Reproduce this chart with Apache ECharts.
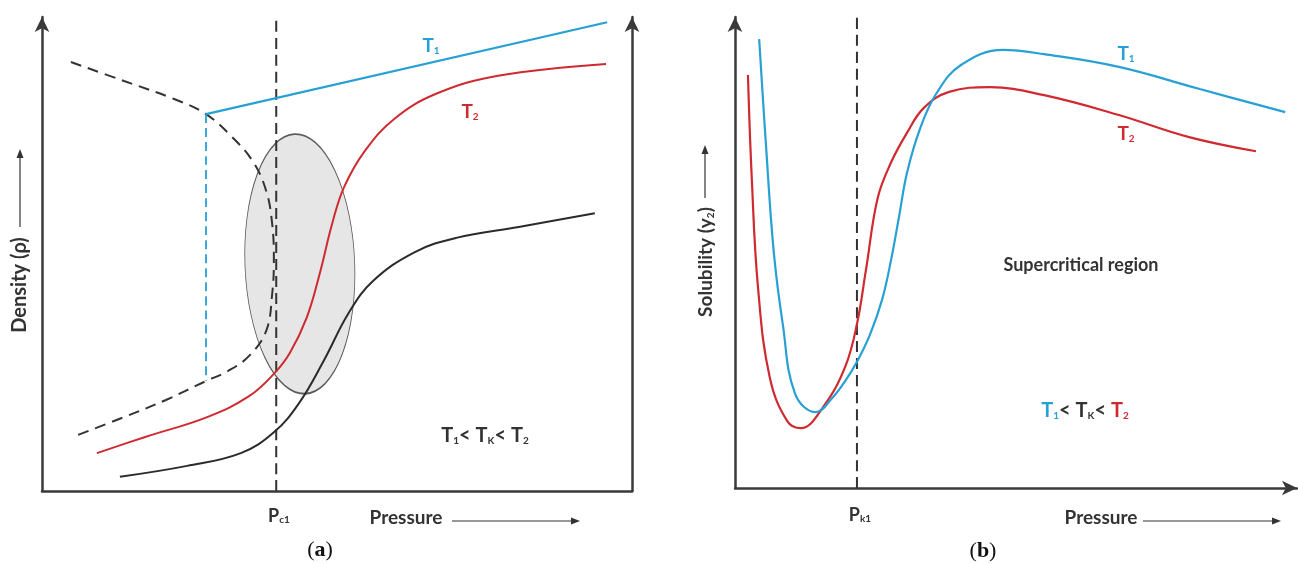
<!DOCTYPE html>
<html>
<head>
<meta charset="utf-8">
<script src="https://cdn.jsdelivr.net/npm/echarts@6/dist/echarts.min.js"></script>
<style>
html,body{margin:0;padding:0;background:#fff;}
#chart{width:1298px;height:564px;}
</style>
</head>
<body>
<div id="chart"></div>
<script>
// ---------- Panel (a): Density vs Pressure (arbitrary units 0-100) ----------
const pc1 = 39.7;
const aT1Line = [[27.8, 79.5], [95.8, 98.9]];
const aT1Drop = [[27.8, 79.5], [27.8, 23.2]];
const aCoexist = [[4.9, 90.5], [13.9, 86.5], [22.4, 82.7], [27.8, 79.5], [32.2, 74.7], [35.8, 69.4], [38.0, 63.3], [39.0, 56.5], [39.3, 48.9], [39.0, 41.4], [38.0, 33.8], [35.1, 28.5], [31.5, 25.3], [27.8, 23.2], [21.0, 19.2], [13.9, 15.6], [5.6, 11.6]];
const aT2 = [[9.3, 8.0], [17.5, 11.4], [28.0, 15.6], [35.1, 20.0], [39.3, 24.7], [42.0, 29.1], [44.9, 36.7], [47.1, 46.0], [49.2, 56.5], [51.2, 64.1], [54.7, 71.7], [59.7, 78.5], [66.8, 83.8], [77.3, 87.6], [95.6, 90.1]];
const aBlack = [[13.2, 3.0], [24.6, 5.3], [33.7, 8.0], [39.3, 12.4], [43.6, 18.6], [47.8, 27.6], [52.0, 37.6], [56.1, 44.3], [63.2, 50.4], [70.2, 53.4], [80.8, 55.7], [93.7, 58.6]];
// NCR ellipse: centre x, centre y, half-width, half-height
const ncr = [[43.7, 47.9, 9.3, 27.4]];

// ---------- Panel (b): Solubility vs Pressure ----------
const pk1 = 21.7;
const bT1 = [[4.3, 95.3], [5.5, 73.0], [6.9, 50.1], [8.5, 34.8], [10.7, 20.0], [14.4, 16.1], [17.3, 19.1], [19.6, 22.7], [21.7, 26.8], [24.0, 32.5], [26.2, 40.1], [27.8, 48.6], [29.2, 57.7], [30.6, 66.9], [32.9, 76.2], [35.8, 83.7], [40.2, 89.8], [47.7, 93.0], [55.0, 92.1], [68.3, 89.4], [82.7, 84.7], [97.9, 79.8]];
const bT2 = [[2.3, 87.7], [3.0, 65.4], [4.1, 42.5], [6.2, 23.4], [9.3, 14.2], [11.7, 12.7], [15.8, 17.4], [19.6, 25.7], [21.7, 34.8], [23.3, 46.3], [25.4, 61.6], [27.8, 69.2], [30.6, 75.4], [33.6, 80.7], [38.1, 84.1], [45.4, 85.1], [55.0, 83.4], [68.3, 79.2], [80.8, 74.5], [92.7, 71.5]];

const BLUE = '#27a0d4', RED = '#cf2a30', DARK = '#2b2b2b', TXT = '#333333';
const FONT = 'Lato';

function axisBase(extra) {
  return Object.assign({
    type: 'value', min: 0, max: 100,
    axisTick: {show: false}, axisLabel: {show: false}, splitLine: {show: false}
  }, extra);
}
const arrowLine = {show: true, symbol: ['none', 'arrow'], symbolSize: [11, 15], lineStyle: {color: '#3a3a3a', width: 2.5}};
const plainLine = {show: true, lineStyle: {color: '#3a3a3a', width: 2.5}};

function ln(name, data, color, xi, dash, width) {
  return {
    type: 'line', name: name, data: data, xAxisIndex: xi, yAxisIndex: xi === 0 ? 0 : 2,
    smooth: 0.4, symbol: 'none', silent: true,
    lineStyle: {color: color, width: width || 2, type: dash || 'solid'}
  };
}

const sub = (c) => ({fontSize: 10, fontFamily: FONT, fontWeight: 'bold', fill: c, lineHeight: 4, verticalAlign: 'bottom'});
const main = (c, fs) => ({fontSize: fs, fontFamily: FONT, fontWeight: 'bold', fill: c, lineHeight: fs + 2, verticalAlign: 'bottom'});

function txt(x, y, text, fs, color, extra) {
  return Object.assign({
    type: 'text', x: x, y: y, silent: true,
    style: {text: text, fontSize: fs, fontFamily: FONT, fontWeight: 'bold', fill: color || TXT, align: 'center', verticalAlign: 'middle'}
  }, extra || {});
}
function richTxt(x, y, text, rich, extra) {
  return Object.assign({type: 'text', x: x, y: y, silent: true,
    style: {text: text, rich: rich, align: 'center', verticalAlign: 'middle'}}, extra || {});
}
function arrowH(x1, x2, y) {
  return [
    {type: 'line', silent: true, shape: {x1: x1, y1: y, x2: x2 - 7, y2: y}, style: {stroke: '#333', lineWidth: 1.2}},
    {type: 'polygon', silent: true, shape: {points: [[x2, y], [x2 - 9, y - 3.5], [x2 - 9, y + 3.5]]}, style: {fill: '#333'}}
  ];
}
function arrowV(x, y1, y2) {
  return [
    {type: 'line', silent: true, shape: {x1: x, y1: y1, x2: x, y2: y2 + 7}, style: {stroke: '#333', lineWidth: 1.2}},
    {type: 'polygon', silent: true, shape: {points: [[x, y2], [x - 3.5, y2 + 9], [x + 3.5, y2 + 9]]}, style: {fill: '#333'}}
  ];
}

const chart = echarts.init(document.getElementById('chart'), null, {renderer: 'canvas'});
chart.setOption({
  animation: false,
  backgroundColor: '#ffffff',
  grid: [
    {left: 42, top: 17, width: 590, height: 474},
    {left: 735, top: 17, width: 562, height: 471}
  ],
  xAxis: [
    axisBase({gridIndex: 0, axisLine: plainLine}),
    axisBase({gridIndex: 1, axisLine: arrowLine})
  ],
  yAxis: [
    axisBase({gridIndex: 0, position: 'left', axisLine: arrowLine}),
    axisBase({gridIndex: 0, position: 'right', axisLine: arrowLine}),
    axisBase({gridIndex: 1, position: 'left', axisLine: arrowLine})
  ],
  series: [
    {
      type: 'custom', name: 'NCR', xAxisIndex: 0, yAxisIndex: 0, data: ncr, silent: true,
      renderItem: function (params, api) {
        const c = api.coord([api.value(0), api.value(1)]);
        const s = api.size([api.value(2), api.value(3)]);
        return {
          type: 'circle', x: c[0], y: c[1], scaleX: s[0] / s[1], rotation: 0.04,
          shape: {cx: 0, cy: 0, r: s[1]},
          style: {fill: '#e6e6e6', stroke: '#5a5a5a', lineWidth: 1.2, strokeNoScale: true}
        };
      }
    },
    ln('coexistence', aCoexist, '#333', 0, [11, 7], 2),
    ln('Pc1', [[pc1, 0], [pc1, 100]], '#333', 0, [11, 6], 2),
    ln('T1 drop', aT1Drop, BLUE, 0, [9, 5], 1.8),
    ln('T1', aT1Line, BLUE, 0, 'solid', 2.2),
    ln('T2', aT2, RED, 0, 'solid', 2),
    ln('T', aBlack, DARK, 0, 'solid', 2),
    ln('Pk1', [[pk1, 0], [pk1, 100]], '#333', 1, [11, 6], 2),
    ln('T2b', bT2, RED, 1, 'solid', 2.2),
    ln('T1b', bT1, BLUE, 1, 'solid', 2.2)
  ],
  graphic: [
    // panel (a)
    txt(305, 181, 'NCR', 18),
    richTxt(431, 45, '{m|T}{s|1}', {m: main(BLUE, 19), s: sub(BLUE)}),
    richTxt(470, 111, '{m|T}{s|2}', {m: main(RED, 19), s: sub(RED)}),
    richTxt(485, 435, '{m|T}{s|1}{m|< T}{s|K}{m|< T}{s|2}', {m: main(TXT, 20), s: sub(TXT)}),
    richTxt(279, 515, '{m|P}{s|c1}', {m: main(TXT, 18), s: sub(TXT)}),
    txt(406, 518, 'Pressure', 19),
    ...arrowH(452, 580, 521),
    txt(20, 285, 'Density (ρ)', 20, TXT, {rotation: Math.PI / 2}),
    ...arrowV(20, 227, 149),
    richTxt(320, 550, '{n|(}{b|a}{n|)}', {
      n: {fontSize: 22, fontFamily: 'Liberation Serif', fill: '#111'},
      b: {fontSize: 22, fontFamily: 'Liberation Serif', fontWeight: 'bold', fill: '#111'}
    }),
    // panel (b)
    richTxt(1126, 53, '{m|T}{s|1}', {m: main(BLUE, 19), s: sub(BLUE)}),
    richTxt(1126, 133, '{m|T}{s|2}', {m: main(RED, 19), s: sub(RED)}),
    txt(1081, 265, 'Supercritical region', 18),
    richTxt(1085, 410, '{b|T}{bs|1}{m|< T}{s|K}{m|< }{r|T}{rs|2}', {
      b: main(BLUE, 20), bs: sub(BLUE), m: main(TXT, 20), s: sub(TXT), r: main(RED, 20), rs: sub(RED)
    }),
    richTxt(860, 514, '{m|P}{s|k1}', {m: main(TXT, 18), s: sub(TXT)}),
    txt(1101, 518, 'Pressure', 19),
    ...arrowH(1143, 1281, 521),
    richTxt(705, 262, '{m|Solubility (y}{s|2}{m|)}', {m: main(TXT, 19), s: sub(TXT)}, {rotation: Math.PI / 2}),
    ...arrowV(705, 198, 145),
    richTxt(983, 551, '{n|(}{b|b}{n|)}', {
      n: {fontSize: 22, fontFamily: 'Liberation Serif', fill: '#111'},
      b: {fontSize: 22, fontFamily: 'Liberation Serif', fontWeight: 'bold', fill: '#111'}
    })
  ]
});
</script>
</body>
</html>
